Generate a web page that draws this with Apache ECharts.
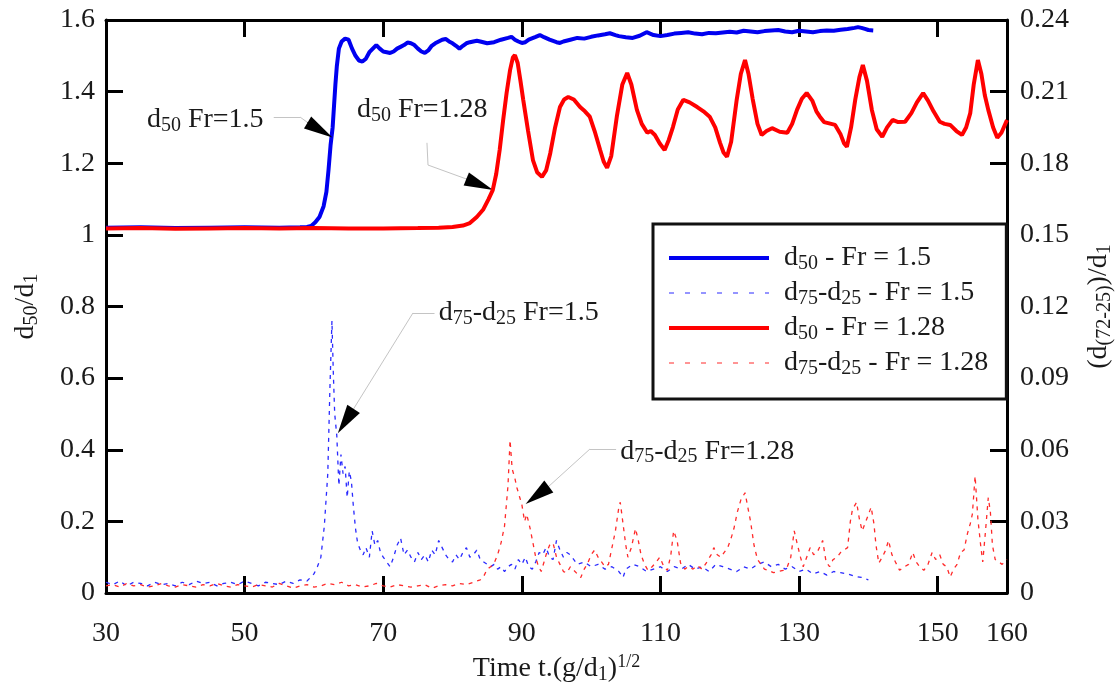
<!DOCTYPE html>
<html>
<head>
<meta charset="utf-8">
<script src="https://cdn.jsdelivr.net/npm/echarts@6/dist/echarts.min.js"></script>
<style>html,body{margin:0;padding:0;background:#fff}#c{width:1120px;height:682px}</style>
</head>
<body>
<div id="c"></div>
<script>
// ---------- data ----------
const xTickLabels = [30, 50, 70, 90, 110, 130, 150, 160];
const xTickMarks = [50, 70, 90, 110, 130, 150];

// d50 - Fr = 1.5 (left axis, d50/d1)
const d50Fr15 = [[30,1.02],[35,1.021],[40,1.019],[45,1.02],[50,1.021],[55,1.02],[58,1.021],[59,1.022],[59.6,1.025],[60.2,1.035],[60.8,1.05],[61.4,1.08],[61.8,1.12],[62.1,1.18],[62.4,1.25],[62.7,1.3],[62.9,1.36],[63.1,1.42],[63.3,1.47],[63.6,1.52],[64,1.54],[64.5,1.548],[65,1.545],[65.5,1.52],[66,1.5],[66.5,1.487],[67,1.484],[67.5,1.492],[68,1.51],[68.5,1.52],[69,1.53],[69.5,1.52],[70,1.512],[70.5,1.51],[71,1.508],[71.5,1.512],[72,1.52],[72.5,1.525],[73,1.53],[73.5,1.537],[74,1.535],[74.5,1.53],[75,1.52],[75.5,1.512],[76,1.508],[76.5,1.515],[77,1.528],[77.5,1.535],[78,1.54],[78.5,1.545],[79,1.547],[79.5,1.54],[80,1.535],[80.5,1.528],[81,1.52],[81.5,1.528],[82,1.535],[82.5,1.538],[83,1.54],[83.5,1.542],[84,1.54],[85,1.535],[86,1.538],[87,1.545],[88,1.55],[88.5,1.553],[89,1.545],[89.5,1.54],[90,1.536],[90.5,1.538],[91,1.545],[92,1.553],[92.6,1.558],[93.2,1.552],[94,1.545],[95,1.538],[95.5,1.536],[96,1.54],[97,1.545],[98,1.55],[99,1.548],[100,1.553],[101,1.557],[102,1.56],[102.7,1.563],[103.5,1.558],[104,1.555],[105,1.552],[106,1.55],[107,1.556],[108,1.566],[109,1.558],[110,1.555],[111,1.558],[112,1.562],[113,1.564],[114,1.566],[115,1.562],[116,1.56],[117,1.564],[118,1.563],[119,1.565],[120,1.567],[121,1.565],[122,1.57],[123,1.568],[124,1.566],[125,1.569],[126,1.571],[127,1.572],[128,1.568],[129,1.566],[130,1.57],[131,1.568],[132,1.566],[133,1.569],[134,1.571],[135,1.57],[136,1.573],[137,1.575],[138,1.578],[138.5,1.58],[139,1.578],[139.5,1.575],[140,1.572],[140.7,1.571]];

// d50 - Fr = 1.28 (left axis)
const d50Fr128 = [[30,1.018],[35,1.019],[40,1.017],[45,1.018],[50,1.019],[55,1.018],[60,1.019],[65,1.018],[70,1.018],[75,1.019],[78,1.02],[80,1.022],[81.5,1.026],[82.5,1.033],[83.5,1.05],[84.4,1.07],[85.2,1.1],[85.8,1.125],[86.3,1.17],[86.8,1.237],[87.3,1.32],[87.8,1.396],[88.3,1.46],[88.7,1.495],[89,1.502],[89.4,1.48],[89.8,1.43],[90.2,1.377],[90.9,1.29],[91.6,1.209],[92.2,1.175],[92.9,1.162],[93.5,1.18],[94.1,1.228],[94.8,1.3],[95.5,1.357],[96.1,1.378],[96.7,1.385],[97.5,1.378],[98.4,1.357],[99.1,1.345],[99.8,1.33],[100.5,1.29],[101.3,1.237],[101.8,1.205],[102.3,1.187],[102.9,1.22],[103.7,1.33],[104.5,1.42],[105.2,1.452],[105.8,1.42],[106.6,1.349],[107.3,1.31],[108.1,1.285],[108.6,1.29],[109.2,1.279],[109.9,1.255],[110.6,1.237],[111.2,1.265],[111.8,1.301],[112.5,1.35],[113.3,1.377],[114.2,1.37],[115.3,1.357],[116.2,1.345],[117.1,1.33],[117.9,1.3],[118.6,1.257],[119.1,1.23],[119.6,1.218],[120.2,1.26],[121,1.377],[121.6,1.45],[122.2,1.488],[122.7,1.45],[123.3,1.38],[124,1.31],[124.6,1.279],[125.3,1.29],[126.1,1.298],[127.2,1.288],[128.3,1.285],[129,1.31],[129.7,1.349],[130.4,1.38],[131.1,1.396],[131.9,1.375],[132.5,1.345],[133,1.33],[133.6,1.315],[134.2,1.312],[135.2,1.307],[136,1.28],[136.5,1.255],[136.9,1.246],[137.5,1.3],[138.1,1.377],[138.7,1.44],[139.2,1.474],[139.8,1.43],[140.5,1.349],[141.2,1.295],[142,1.274],[142.7,1.3],[143.5,1.321],[144.3,1.315],[145.3,1.316],[146.2,1.34],[147,1.37],[147.9,1.396],[148.6,1.375],[149.4,1.345],[150.3,1.316],[151,1.31],[151.8,1.307],[152.7,1.29],[153.5,1.279],[154.1,1.3],[154.7,1.34],[155.2,1.42],[155.8,1.488],[156.3,1.45],[156.8,1.39],[157.3,1.349],[158,1.3],[158.6,1.271],[159.2,1.285],[160,1.321]];

// d75-d25 - Fr = 1.5 (right axis)
const spreadFr15 = [[30,0.0045],[31,0.0035],[32,0.005],[33,0.003],[34,0.0045],[35,0.004],[36,0.003],[37,0.0045],[38,0.0035],[39,0.004],[40,0.003],[41,0.0045],[42,0.0035],[43,0.005],[44,0.004],[45,0.0045],[46,0.003],[47,0.004],[48,0.0045],[49,0.0035],[50,0.005],[51,0.004],[52,0.003],[53,0.0045],[54,0.004],[55,0.0035],[56,0.005],[57,0.004],[58,0.0055],[59,0.005],[59.5,0.0065],[60,0.008],[60.5,0.011],[61,0.015],[61.5,0.028],[62,0.05],[62.3,0.085],[62.6,0.114],[62.8,0.092],[63,0.075],[63.3,0.066],[63.6,0.045],[63.9,0.058],[64.2,0.05],[64.5,0.053],[64.8,0.04],[65.1,0.051],[65.4,0.047],[65.7,0.036],[66,0.027],[66.3,0.021],[66.7,0.018],[67.1,0.016],[67.5,0.019],[68,0.015],[68.4,0.026],[68.8,0.02],[69.2,0.022],[69.6,0.017],[70,0.015],[70.5,0.013],[71,0.011],[71.5,0.015],[72,0.02],[72.5,0.023],[73,0.016],[73.5,0.018],[74,0.015],[74.5,0.013],[75,0.017],[75.5,0.014],[76,0.016],[76.5,0.013],[77,0.018],[77.5,0.016],[78,0.022],[78.5,0.019],[79,0.016],[79.5,0.014],[80,0.013],[80.5,0.016],[81,0.014],[81.5,0.017],[82,0.019],[82.5,0.015],[83,0.016],[83.5,0.018],[84,0.014],[84.5,0.013],[85,0.012],[85.5,0.011],[86,0.012],[86.5,0.01],[87,0.011],[87.5,0.009],[88,0.011],[88.5,0.012],[89,0.01],[89.5,0.014],[90,0.012],[90.5,0.015],[91,0.011],[91.5,0.01],[92,0.013],[92.5,0.017],[93,0.016],[93.5,0.019],[94,0.015],[94.5,0.014],[95,0.022],[95.5,0.018],[96,0.015],[96.5,0.017],[97,0.016],[97.5,0.014],[98,0.012],[99,0.013],[100,0.011],[101,0.012],[102,0.01],[103,0.011],[104,0.009],[104.6,0.0065],[105,0.01],[106,0.012],[107,0.011],[108,0.009],[109,0.01],[110,0.011],[111,0.009],[112,0.011],[113,0.01],[114,0.012],[115,0.01],[116,0.011],[117,0.009],[118,0.012],[119,0.011],[120,0.01],[121,0.009],[122,0.011],[123,0.01],[124,0.012],[125,0.013],[126,0.011],[127,0.012],[128,0.01],[129,0.011],[130,0.009],[131,0.01],[132,0.008],[133,0.009],[134,0.0075],[135,0.009],[136,0.0085],[137,0.008],[138,0.007],[139,0.0065],[140,0.0055]];

// d75-d25 - Fr = 1.28 (right axis)
const spreadFr128 = [[30,0.003],[31,0.0035],[32,0.0025],[33,0.004],[34,0.003],[35,0.0035],[36,0.0025],[37,0.003],[38,0.004],[39,0.003],[40,0.0025],[41,0.0035],[42,0.003],[43,0.0025],[44,0.0035],[45,0.003],[46,0.004],[47,0.003],[48,0.0025],[49,0.0035],[50,0.003],[51,0.0025],[52,0.0035],[53,0.003],[54,0.0025],[55,0.004],[56,0.003],[57,0.002],[58,0.003],[59,0.0035],[60,0.0025],[61,0.003],[62,0.004],[63,0.0035],[64,0.0045],[65,0.003],[66,0.0035],[67,0.0025],[68,0.003],[69,0.004],[70,0.003],[71,0.0025],[72,0.0035],[73,0.003],[74,0.0025],[75,0.003],[76,0.0035],[77,0.002],[78,0.003],[79,0.0035],[80,0.003],[81,0.004],[82,0.0035],[83,0.0045],[84,0.0055],[84.5,0.007],[85,0.01],[85.5,0.011],[86,0.0125],[86.5,0.016],[87,0.021],[87.5,0.028],[88,0.045],[88.3,0.064],[88.6,0.052],[89,0.048],[89.3,0.044],[89.7,0.04],[90,0.037],[90.4,0.03],[90.7,0.033],[91.2,0.027],[91.6,0.021],[92,0.015],[92.4,0.011],[92.8,0.009],[93.2,0.013],[93.6,0.017],[94,0.02],[94.5,0.021],[95,0.015],[95.5,0.012],[96,0.009],[96.5,0.0085],[97,0.011],[97.5,0.0095],[98,0.008],[98.5,0.0065],[99,0.01],[99.5,0.0125],[100,0.016],[100.5,0.018],[101,0.015],[101.5,0.013],[102,0.011],[102.5,0.012],[103,0.019],[103.5,0.026],[104,0.036],[104.2,0.038],[104.6,0.029],[105,0.02],[105.3,0.015],[105.8,0.019],[106.4,0.027],[106.8,0.022],[107.2,0.016],[107.7,0.012],[108.2,0.0095],[108.8,0.011],[109.4,0.013],[109.9,0.015],[110.5,0.011],[111,0.0095],[111.5,0.016],[111.9,0.026],[112.4,0.022],[112.9,0.0125],[113.5,0.01],[114,0.011],[114.7,0.01],[115.3,0.0115],[116,0.01],[116.7,0.013],[117.3,0.016],[117.7,0.019],[118.2,0.016],[118.7,0.015],[119.2,0.017],[119.7,0.019],[120.2,0.023],[120.6,0.027],[121.1,0.034],[121.6,0.039],[122.2,0.042],[122.6,0.036],[123,0.03],[123.5,0.02],[124,0.014],[124.5,0.012],[125,0.01],[125.6,0.0095],[126.3,0.0085],[127,0.009],[127.7,0.0095],[128.3,0.011],[128.8,0.015],[129.3,0.026],[129.7,0.021],[130.2,0.015],[130.6,0.011],[131.1,0.015],[131.6,0.019],[132.1,0.016],[132.6,0.017],[133.1,0.02],[133.4,0.022],[133.9,0.013],[134.4,0.011],[134.9,0.014],[135.5,0.015],[136,0.017],[136.5,0.018],[137,0.019],[137.4,0.03],[137.7,0.035],[138.3,0.038],[138.7,0.031],[139.1,0.026],[139.5,0.029],[139.9,0.032],[140.4,0.036],[140.8,0.029],[141.1,0.02],[141.5,0.0125],[142,0.015],[142.5,0.018],[142.9,0.022],[143.4,0.016],[143.9,0.013],[144.5,0.0095],[145.2,0.011],[145.8,0.012],[146.4,0.017],[146.9,0.013],[147.4,0.011],[148,0.0095],[148.6,0.012],[149.2,0.017],[149.7,0.014],[150.3,0.016],[150.8,0.012],[151.3,0.011],[151.8,0.0067],[152.3,0.01],[152.8,0.012],[153.3,0.017],[153.8,0.018],[154.3,0.025],[154.7,0.029],[155,0.033],[155.4,0.049],[155.8,0.031],[156.2,0.02],[156.5,0.013],[156.9,0.026],[157.3,0.04],[157.6,0.034],[157.9,0.02],[158.3,0.014],[158.8,0.013],[159.3,0.012],[160,0.014]];

const seriesNames = ['d50 - Fr = 1.5', 'd75-d25 - Fr = 1.5', 'd50 - Fr = 1.28', 'd75-d25 - Fr = 1.28'];
const legendRich = {
  'd50 - Fr = 1.5': '{g|}{n|d}{s|50}{n| - Fr = 1.5}',
  'd75-d25 - Fr = 1.5': '{g|}{n|d}{s|75}{n|-d}{s|25}{n| - Fr = 1.5}',
  'd50 - Fr = 1.28': '{g|}{n|d}{s|50}{n| - Fr = 1.28}',
  'd75-d25 - Fr = 1.28': '{g|}{n|d}{s|75}{n|-d}{s|25}{n| - Fr = 1.28}'
};

// annotations (data coordinates on the left axis)
const annotations = [
  {text: '{n|d}{s|50}{n| Fr=1.5}', at: [35.9, 1.321], leader: [[54.2, 1.329], [58.0, 1.329], [59.07, 1.314]], arrow: [[59.07, 1.314], [60.88, 1.293]], head: [14, 29]},
  {text: '{n|d}{s|50}{n| Fr=1.28}', at: [66.2, 1.349], leader: [[76.31, 1.257], [76.46, 1.195], [82.0, 1.156]], arrow: [[82.0, 1.156], [83.92, 1.1407]], head: [14, 29]},
  {text: '{n|d}{s|75}{n|-d}{s|25}{n| Fr=1.5}', at: [78.0, 0.782], leader: [[77.4, 0.7819], [74.29, 0.7819], [65.71, 0.5138]], arrow: [[65.71, 0.5138], [64.59, 0.4803]], head: [15, 29]},
  {text: '{n|d}{s|75}{n|-d}{s|25}{n| Fr=1.28}', at: [104.2, 0.396], leader: [[103.6, 0.4021], [99.83, 0.4021], [93.70, 0.2946]], arrow: [[93.70, 0.2946], [92.22, 0.273]], head: [15, 29]}
];

// ---------- styles ----------
const FF = 'Liberation Serif';
const TXT = '#1a1a1a';
const rich = {
  n: {fontFamily: FF, fontSize: 28, color: TXT, lineHeight: 32},
  s: {fontFamily: FF, fontSize: 20, color: TXT, lineHeight: 16, verticalAlign: 'bottom'},
  p: {fontFamily: FF, fontSize: 18, color: TXT, lineHeight: 14, verticalAlign: 'top'},
  g: {width: 10, height: 10}
};

const markLineData = [];
annotations.forEach(a => {
  for (let i = 0; i < a.leader.length - 1; i++) {
    markLineData.push([
      {coord: a.leader[i], symbol: 'none', lineStyle: {color: '#c4c4c4', width: 1, type: 'solid'}},
      {coord: a.leader[i + 1], symbol: 'none'}
    ]);
  }
  markLineData.push([
    {coord: a.arrow[0], symbol: 'none', lineStyle: {color: '#000', width: 1, type: 'solid'}},
    {coord: a.arrow[1], symbol: 'triangle', symbolSize: a.head}
  ]);
});
const markPointData = annotations.map(a => ({
  coord: a.at, symbol: 'circle', symbolSize: 0,
  label: {show: true, position: 'right', distance: 0, formatter: a.text, rich: rich}
}));

const axisLineStyle = {show: true, lineStyle: {color: '#000', width: 3}};
const tickStyle = {show: true, inside: true, length: 17, lineStyle: {color: '#000', width: 3}};
const labelStyle = {fontFamily: FF, fontSize: 28, color: TXT};

const blue = '#0000f0', red = '#ff0000', blueD = '#2a2aff', redD = '#ff2a2a';

const chart = echarts.init(document.getElementById('c'), null, {renderer: 'canvas'});
chart.setOption({
  animation: false,
  backgroundColor: '#fff',
  grid: {left: 106, right: 113, top: 20, bottom: 89, containLabel: false, outerBoundsMode: 'none'},
  xAxis: [
    {type: 'value', position: 'bottom', min: 30, max: 160,
      axisLine: Object.assign({onZero: false}, axisLineStyle),
      axisTick: Object.assign({customValues: xTickMarks}, tickStyle),
      axisLabel: Object.assign({customValues: xTickLabels, margin: 27}, labelStyle),
      splitLine: {show: false},
      name: '{n|Time t.(g/d}{s|1}{n|)}{p|1/2}', nameLocation: 'middle', nameGap: 52,
      nameTextStyle: {rich: rich}
    },
    {type: 'value', position: 'top', min: 30, max: 160,
      axisLine: Object.assign({onZero: false}, axisLineStyle),
      axisTick: Object.assign({customValues: xTickMarks}, tickStyle),
      axisLabel: {show: false}, splitLine: {show: false}
    }
  ],
  yAxis: [
    {type: 'value', position: 'left', min: 0, max: 1.6, interval: 0.2,
      axisLine: axisLineStyle, axisTick: tickStyle,
      axisLabel: Object.assign({margin: 11}, labelStyle),
      splitLine: {show: false},
      name: '{n|d}{s|50}{n|/d}{s|1}', nameLocation: 'middle', nameGap: 64, nameRotate: 90,
      nameTextStyle: {rich: rich}
    },
    {type: 'value', position: 'right', min: 0, max: 0.24, interval: 0.03,
      axisLine: axisLineStyle, axisTick: tickStyle,
      axisLabel: Object.assign({margin: 13}, labelStyle),
      splitLine: {show: false},
      name: '{n|(d}{s|(72-25)}{n|)/d}{s|1}', nameLocation: 'middle', nameGap: 76, nameRotate: 90,
      nameTextStyle: {rich: rich}
    }
  ],
  legend: {
    data: [
      {name: seriesNames[0], lineStyle: {width: 4, color: blue}},
      {name: seriesNames[1], lineStyle: {width: 1, color: blueD, type: [5, 11]}},
      {name: seriesNames[2], lineStyle: {width: 4, color: red}},
      {name: seriesNames[3], lineStyle: {width: 1, color: redD, type: [5, 11]}}
    ],
    orient: 'vertical', left: 653, top: 224,
    padding: [20, 18, 20, 14],
    borderColor: '#111', borderWidth: 3, backgroundColor: '#fff',
    itemWidth: 100, itemHeight: 28, itemGap: 5,
    itemStyle: {opacity: 0, borderWidth: 0},
    formatter: name => legendRich[name],
    textStyle: {rich: rich},
    selectedMode: false
  },
  series: [
    {name: seriesNames[1], type: 'line', xAxisIndex: 0, yAxisIndex: 1, data: spreadFr15,
      showSymbol: false, symbol: 'none', z: 2,
      lineStyle: {color: blueD, width: 1.3, type: [4, 5]}, itemStyle: {color: blueD}},
    {name: seriesNames[3], type: 'line', xAxisIndex: 0, yAxisIndex: 1, data: spreadFr128,
      showSymbol: false, symbol: 'none', z: 3,
      lineStyle: {color: redD, width: 1.3, type: [4, 5]}, itemStyle: {color: redD}},
    {name: seriesNames[0], type: 'line', xAxisIndex: 0, yAxisIndex: 0, data: d50Fr15,
      showSymbol: false, symbol: 'none', z: 4,
      lineStyle: {color: blue, width: 4}, itemStyle: {color: blue},
      markLine: {silent: true, animation: false, symbol: 'none', label: {show: false}, data: markLineData},
      markPoint: {silent: true, animation: false, data: markPointData}
    },
    {name: seriesNames[2], type: 'line', xAxisIndex: 0, yAxisIndex: 0, data: d50Fr128,
      showSymbol: false, symbol: 'none', z: 5,
      lineStyle: {color: red, width: 4}, itemStyle: {color: red}}
  ]
});
</script>
</body>
</html>
